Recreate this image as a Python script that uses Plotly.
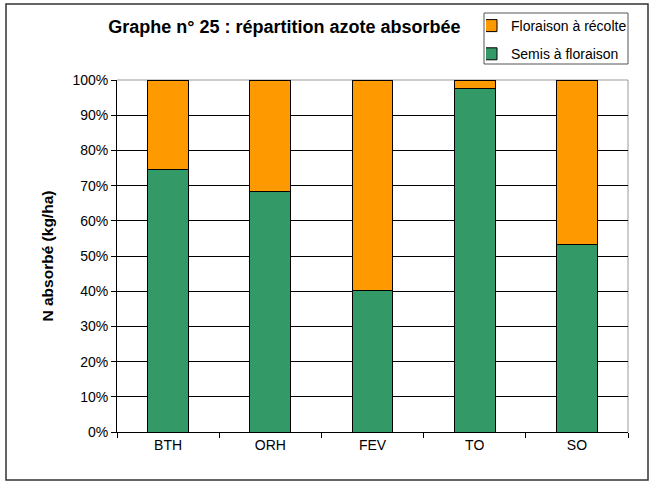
import plotly.graph_objects as go

categories = ["BTH", "ORH", "FEV", "TO", "SO"]
semis_floraison = [0.747, 0.682, 0.403, 0.975, 0.534]
floraison_recolte = [1 - v for v in semis_floraison]

title_text = "Graphe n° 25 : répartition azote absorbée"
y_title = "N absorbé (kg/ha)"

W, H = 656, 482
L, R, T, B = 117, 628, 80, 432
pw, ph = R - L, B - T

def px(x):
    return (x - L) / pw

def py(y):
    return (B - y) / ph

FONT = "Liberation Sans, Arial, sans-serif"

fig = go.Figure()
fig.add_trace(go.Bar(
    x=categories, y=semis_floraison, name="Semis à floraison",
    marker=dict(color="#339966", line=dict(color="#000000", width=1)),
    legendgroup="b", legendrank=2,
))
fig.add_trace(go.Bar(
    x=categories, y=floraison_recolte, name="Floraison à récolte",
    marker=dict(color="#FF9900", line=dict(color="#000000", width=1)),
    legendgroup="a", legendrank=1,
))

fig.update_layout(
    width=W, height=H,
    margin=dict(l=L, r=W - R, t=T, b=H - B, pad=0, autoexpand=False),
    paper_bgcolor="white", plot_bgcolor="white",
    barmode="stack", bargap=0.6,
    font=dict(family=FONT, size=14, color="#000000"),
    title=dict(text="<b>" + title_text + "</b>", x=px(284.5), xref="paper", xanchor="center",
               y=1 - 27 / H, yref="container", yanchor="middle",
               font=dict(size=18, family=FONT, color="#000000")),
    legend=dict(x=px(486), xanchor="left", y=py(10), yanchor="top",
                traceorder="grouped", tracegroupgap=7, indentation=-15,
                borderwidth=0, bgcolor="rgba(0,0,0,0)",
                font=dict(size=14, family=FONT), itemwidth=30),
    showlegend=True,
)

fig.update_xaxes(
    showline=True, linecolor="#000000", linewidth=1,
    ticks="outside", ticklen=5, tickcolor="#000000", tickson="boundaries",
    showgrid=False, tickfont=dict(size=14), fixedrange=True,
)
fig.update_yaxes(
    range=[0, 1], dtick=0.1, tickformat=".0%",
    showline=True, linecolor="#000000", linewidth=1,
    ticks="outside", ticklen=5, tickcolor="#000000",
    showgrid=True, gridcolor="#000000", gridwidth=1,
    zeroline=False, tickfont=dict(size=14), fixedrange=True,
)

fig.add_annotation(text="<b>" + y_title + "</b>", xref="paper", yref="paper",
                   x=px(36), y=0.5, textangle=-90, showarrow=False,
                   font=dict(size=15.5, family=FONT, color="#000000"))

# plot area top/right border (gray)
fig.add_shape(type="line", xref="paper", yref="paper", x0=0, x1=1, y0=1, y1=1,
              line=dict(color="#9a9a9a", width=1), layer="between")
fig.add_shape(type="line", xref="paper", yref="paper", x0=1, x1=1, y0=0, y1=1,
              line=dict(color="#9a9a9a", width=1), layer="between")
# legend box
fig.add_shape(type="rect", xref="paper", yref="paper",
              x0=px(484), x1=px(628), y0=py(64), y1=py(13),
              line=dict(color="#555555", width=1), fillcolor="white", layer="below")
# outer chart frame
fig.add_shape(type="rect", xref="paper", yref="paper",
              x0=px(6), x1=px(648), y0=py(480), y1=py(4),
              line=dict(color="#333333", width=1.5), layer="above")

fig.write_html("out.html", config={"displayModeBar": False},
               post_script="document.body.style.margin='0';")
